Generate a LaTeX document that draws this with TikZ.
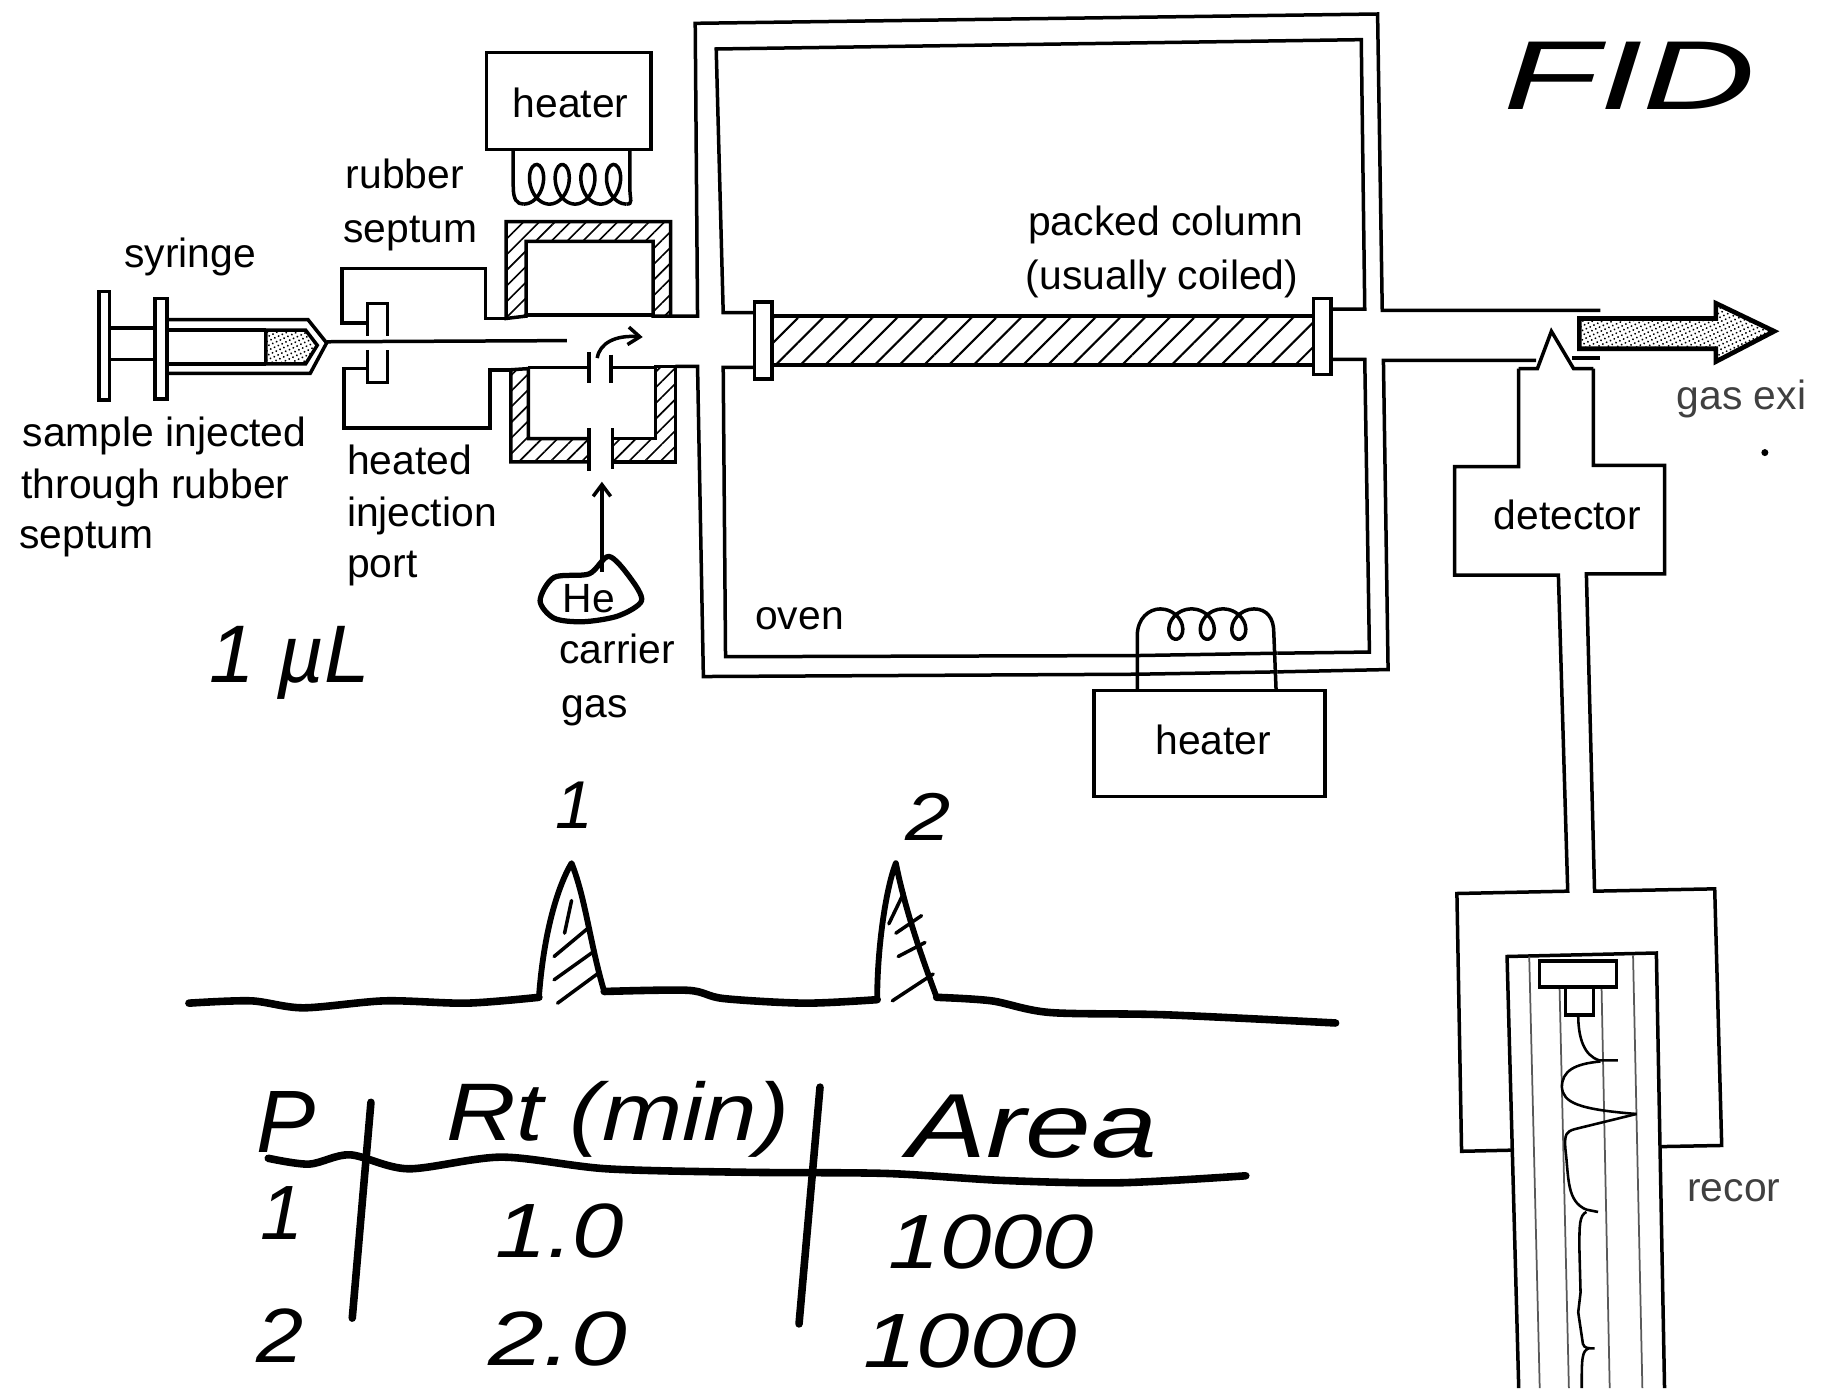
\documentclass[tikz,border=0pt]{standalone}
\usepackage{fontspec}
\setmainfont{Liberation Sans}
\usetikzlibrary{patterns.meta, arrows.meta}

\tikzset{
  lbl/.style={anchor=west, inner sep=0pt, yshift=-2pt, text height=26pt, text depth=8pt, font=\fontsize{35}{35}\selectfont},
  ink/.style={line width=6.5pt, line cap=round, line join=round},
  thinink/.style={line width=3pt, line cap=round},
  inktext/.style={inner sep=0pt, font=\itshape\fontsize{#1}{#1}\selectfont},
  hatch/.style={pattern={Lines[angle=45,distance=15pt,line width=1.8pt]}},
  finehatch/.style={pattern={Lines[angle=45,distance=9.5pt,line width=1.4pt]}},
  stipple/.style={pattern={Dots[distance=3.6pt,radius=0.9pt,angle=25]}},
  paperline/.style={line width=1.5pt, black!65},
  barb/.style={-{Straight Barb[length=10pt,width=15pt]}},
}

\begin{document}
\begin{tikzpicture}[x=1pt, y=-1pt, line width=3pt, line join=miter]
  \useasboundingbox (0,0) rectangle (1568,1190);

  % syringe
  \draw (85,250) rectangle (94,343);
  \draw (133,256) rectangle (143,342);
  \draw (94,281)--(133,281);
  \draw (94,308)--(133,308);
  \draw (143,274)--(264,274)--(280,294)--(266,320)--(143,320);
  \draw[stipple] (228,283)--(262,283)--(272,296)--(262,312)--(228,312)--cycle;
  \draw (143,283)--(228,283);
  \draw (143,312)--(228,312);
  \draw (280,293)--(486,292);

  % injection port and septum
  \draw (315,288)--(315,260)--(332,260)--(332,288);
  \draw (315,300)--(315,328)--(332,328)--(332,300);
  \draw (315,277)--(293,277)--(293,230)--(416,230)--(416,273)--(434,273);
  \draw (315,316)--(295,316)--(295,367)--(420,367)--(420,317)--(438,317);

  % heated jacket
  \draw[finehatch] (434,273)--(434,190)--(575,190)--(575,271)--(560,271)--(560,207)--(451,207)--(451,271)--cycle;
  \draw (451,270)--(560,270);
  \draw[finehatch] (438,317)--(438,396)--(505,396)--(505,376)--(453,376)--(453,316)--cycle;
  \draw[finehatch] (525,396)--(579,396)--(579,314)--(562,314)--(562,376)--(525,376)--cycle;
  \draw (453,315)--(505,315);
  \draw (524,315)--(562,315);
  \draw (505,302)--(505,328);
  \draw (524,304)--(524,328);
  \draw (505,367)--(505,404);
  \draw (525,367)--(525,402);
  \draw[barb] (512,307) .. controls (514,294) and (528,287) .. (551,289);

  % carrier gas
  \coordinate (HeTop) at (516,490);
  \coordinate (HeEnd) at (516,413);
  \draw[barb] (HeTop)--(HeEnd);
  \draw[ink, line width=4.5pt] plot[smooth cycle] coordinates {(463,515) (475,495) (505,492) (522,477) (540,495) (550,515) (530,528) (500,533) (475,530)};

  % oven
  \draw (575,271)--(598,271)--(596,20)--(1181,12)--(1185,266)--(1372,266);
  \draw (579,314)--(598,314)--(603,580)--(975,578);
  \draw (1095,576)--(1190,574)--(1186,309)--(1317,309);
  \draw (647,268)--(620,268)--(614,42)--(1167,34)--(1170,265)--(1141,265);
  \draw (647,315)--(620,315)--(622,563)--(975,562);
  \draw (1095,560)--(1174,559)--(1170,308)--(1141,308);

  % column
  \draw[hatch] (662,271) rectangle (1126,313);
  \draw[fill=white] (647,259) rectangle (662,325);
  \draw[fill=white] (1126,256) rectangle (1141,321);

  % heaters
  \draw (417,45) rectangle (558,128);
  \draw (440,128)--(440,160) .. controls (440,171) and (443,175) .. (449,175);
  \draw plot[domain=-0.5:3.5, samples=90, smooth] ({460+22*\x-11*sin(360*\x)}, {158-17*cos(360*\x)});
  \draw (540,128)--(540,162) .. controls (540,171) and (543,175) .. (537,175);
  \draw (938,592) rectangle (1136,683);
  \draw (975,592)--(975,545) .. controls (975,530) and (985,522) .. (995,522);
  \draw plot[domain=-0.5:2.5, samples=70, smooth] ({1008+27*\x-12*sin(360*\x)}, {535+13*cos(360*\x)});
  \draw (1075,522) .. controls (1086,522) and (1092,530) .. (1092,542)--(1094,592);
  \draw (975,562)--(1095,560);
  \draw (975,578)--(1095,576);

  % detector
  \draw (1348,307)--(1372,307);
  \draw (1302,316)--(1318,316)--(1330,284)--(1349,316)--(1366,316);
  \draw (1302,316)--(1302,400)--(1247,400)--(1247,493)--(1336,493)--(1344,764)--(1249,766)--(1253,987)--(1297,986);
  \draw (1366,316)--(1366,399)--(1427,399)--(1427,492)--(1360,492)--(1367,764)--(1470,762)--(1476,982)--(1423,983);

  % exit arrow
  \draw[stipple, line width=4pt] (1354,273)--(1471,273)--(1471,260)--(1521,284)--(1471,310)--(1471,299)--(1354,299)--cycle;
  \fill (1513,388) circle (3pt);

  % chart paper
  \draw (1302,1190)--(1292,820)--(1420,817)--(1427,1190);
  \draw[paperline] (1311,820)--(1320,1190);
  \draw[paperline] (1337,847)--(1345,1190);
  \draw[paperline] (1373,847)--(1380,1190);
  \draw[paperline] (1400,819)--(1408,1190);
  \draw[fill=white] (1320,824) rectangle (1386,846);
  \draw[fill=white] (1342,846) rectangle (1366,870);
  \draw[line width=2.2pt] (1353,870) .. controls (1353,890) and (1358,905) .. (1371,909)--(1387,909);
  \draw[line width=2.2pt] (1372,910) .. controls (1350,912) and (1339,918) .. (1339,932) .. controls (1340,945) and (1352,951) .. (1403,955);
  \draw[line width=2.2pt] (1403,955)--(1350,968) .. controls (1343,970) and (1341,972) .. (1342,985) .. controls (1345,1010) and (1343,1030) .. (1360,1037)--(1370,1039);
  \draw[line width=2.2pt] (1360,1039) .. controls (1354,1042) and (1354,1050) .. (1354,1070)--(1355,1108)--(1353,1125)--(1357,1152) .. controls (1358,1156) and (1362,1156) .. (1367,1156);
  \draw[line width=2.2pt] (1362,1156) .. controls (1356,1158) and (1356,1165) .. (1356,1190);

  % printed labels
  \node[lbl] (heatertop) at (438,90) {heater};
  \node[lbl] (heaterbot) at (989,636) {heater};
  \node[lbl] (rubber) at (295,151) {rubber};
  \node[lbl] (septum) at (293,197) {septum};
  \node[lbl] (syringe) at (105,218) {syringe};
  \node[lbl] (sampleA) at (18,372) {sample injected};
  \node[lbl] (sampleB) at (17,416) {through rubber};
  \node[lbl] (sampleC) at (15,459) {septum};
  \node[lbl] (portA) at (296,396) {heated};
  \node[lbl] (portB) at (296,440) {injection};
  \node[lbl] (portC) at (296,484) {port};
  \node[lbl] (he) at (481,514) {He};
  \node[lbl] (carrierA) at (478,558) {carrier};
  \node[lbl] (carrierB) at (480,604) {gas};
  \node[lbl] (oven) at (646,529) {oven};
  \node[lbl] (columnA) at (880,191) {packed column};
  \node[lbl] (columnB) at (878,237) {(usually coiled)};
  \node[lbl] (detector) at (1279,443) {detector};
  \node[lbl, black!75] (gasexit) at (1436,340) {gas exi};
  \node[lbl, black!75] (recorder) at (1445,1019) {recor};

  % handwritten notes
  \node[inktext=84, xscale=1.6] (fid) at (1397,65) {FID};
  \node[inktext=70] (volume) at (248,568) {1 µL};
  \draw[ink] plot[smooth] coordinates {(162,860) (215,858) (260,864) (330,858) (400,860) (462,855)};
  \draw[ink, line width=5pt] (462,855) .. controls (466,800) and (478,760) .. (490,740) .. controls (502,770) and (506,810) .. (518,850);
  \draw[ink] plot[smooth] coordinates {(518,850) (590,849) (620,856) (690,860) (752,857)};
  \draw[ink, line width=5pt] (752,857) .. controls (752,810) and (760,760) .. (768,740) .. controls (776,780) and (790,820) .. (803,855);
  \draw[ink] plot[smooth] coordinates {(803,855) (850,858) (900,868) (1000,870) (1145,877)};
  \draw[thinink] (484,800)--(490,772);
  \draw[thinink] (475,820)--(505,795);
  \draw[thinink] (475,840)--(510,815);
  \draw[thinink] (478,860)--(512,835);
  \draw[thinink] (762,792)--(775,765);
  \draw[thinink] (768,800)--(790,785);
  \draw[thinink] (770,820)--(793,808);
  \draw[thinink] (765,858)--(800,835);
  \node[inktext=58] (peakA) at (492,690) {1};
  \node[inktext=58, xscale=1.2] (peakB) at (796,700) {2};

  % table
  \draw[ink] (318,945)--(302,1130);
  \draw[ink] (703,932)--(685,1135);
  \draw[ink] plot[smooth] coordinates {(230,993) (265,998) (300,990) (350,1002) (430,992) (520,1002) (640,1005) (760,1006) (860,1012) (960,1014) (1068,1008)};
  \node[inktext=76] (colA) at (245,962) {P};
  \node[inktext=70, xscale=1.18] (colB) at (530,960) {Rt (min)};
  \node[inktext=78, xscale=1.3] (colC) at (885,966) {Area};
  \node[inktext=66] (rowAa) at (242,1040) {1};
  \node[inktext=66, xscale=1.2] (rowAb) at (480,1055) {1.0};
  \node[inktext=66, xscale=1.2] (rowAc) at (850,1065) {1000};
  \node[inktext=66, xscale=1.1] (rowBa) at (240,1145) {2};
  \node[inktext=66, xscale=1.3] (rowBb) at (478,1148) {2.0};
  \node[inktext=66, xscale=1.25] (rowBc) at (832,1150) {1000};
\end{tikzpicture}
\end{document}
